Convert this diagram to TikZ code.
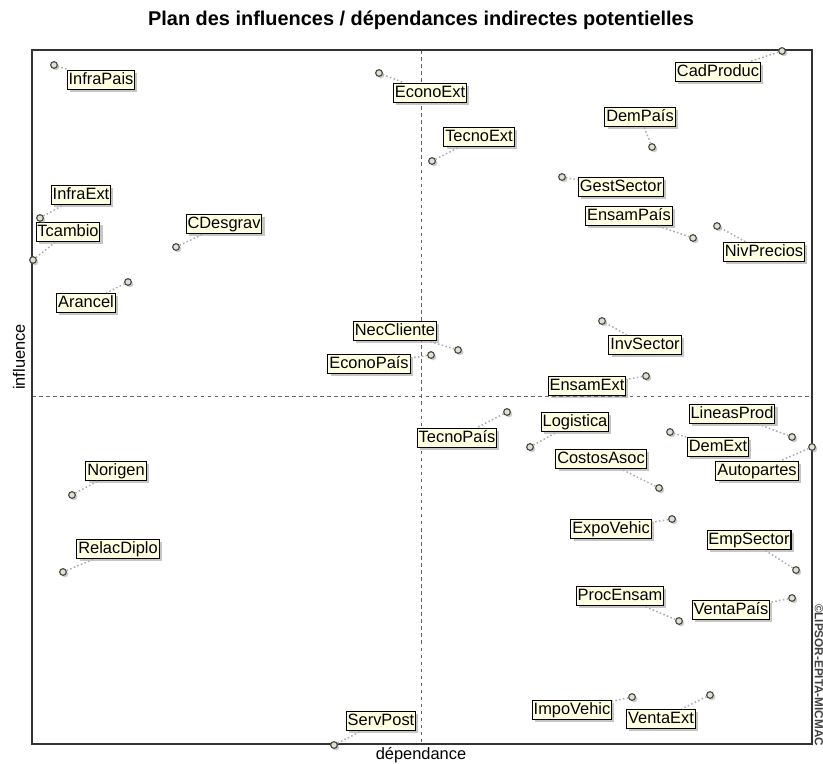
\documentclass[tikz,border=0pt]{standalone}
\usepackage{fontspec}
\setmainfont{Liberation Sans}
\usetikzlibrary{shadows}

\definecolor{lblfill}{RGB}{255,255,226}
\definecolor{ptfill}{RGB}{225,225,205}

\begin{document}
\begin{tikzpicture}[x=0.03cm,y=-0.03cm,
  lbl/.style={draw,line width=0.9pt,fill=lblfill,inner xsep=1.2pt,inner ysep=1.5pt,
    text height=10.5pt,text depth=3pt,font=\fontsize{14}{16}\selectfont,
    drop shadow={shadow xshift=0.08cm,shadow yshift=-0.08cm,opacity=0.45}},
  pt/.style={circle,draw=black!70,line width=1pt,fill=ptfill,inner sep=0mm,minimum size=0.2cm,
    drop shadow={shadow xshift=0.06cm,shadow yshift=-0.06cm,opacity=0.4}},
  leader/.style={gray!65,dotted,line width=1.3pt},
  axis/.style={gray!80!black,dashed,line width=0.6pt}]
\useasboundingbox (0,0) rectangle (823,763);

% titre et axes
\node[font=\bfseries\fontsize{17}{20}\selectfont] (title) at (421,20) {Plan des influences / dépendances indirectes potentielles};
\draw[axis] (421.5,50) -- (421.5,744);
\draw[axis] (32,396.5) -- (812,396.5);
\draw[line width=1.2pt,black!80] (32,50) rectangle (812,744);
\node[font=\fontsize{14}{16}\selectfont] (xlab) at (421,755) {dépendance};
\node[font=\fontsize{14}{16}\selectfont,rotate=90] (ylab) at (19,357) {influence};
\node[font=\bfseries\fontsize{10}{11}\selectfont,rotate=-90,text=black!75] (copy) at (819,675) {©LIPSOR-EPITA-MICMAC};

% libelles
\foreach \x/\y/\n/\t in {101/80/infrapais/InfraPais, 430/93/econoext/EconoExt, 718/72/cadproduct/CadProduc,
    640/117/dempais/DemPaís, 479/137/tecnoext/TecnoExt, 621/187/gestsector/GestSector,
    81/195/infraext/InfraExt, 224/224/cdesgrav/CDesgrav, 68/232/tcambio/Tcambio,
    629/216/ensampais/EnsamPaís, 764/252/nivprecios/NivPrecios, 86/303/arancel/Arancel,
    395/331/neccliente/NecCliente, 369/364/econopais/EconoPaís, 645/345/invsector/InvSector,
    587/386/ensamext/EnsamExt, 457/438/tecnopais/TecnoPaís, 575/422/logistica/Logistica,
    732/414/lineasprod/LineasProd, 718/447/demext/DemExt, 757/471/autopartes/Autopartes,
    601/459/costosasoc/CostosAsoc, 116/471/norigen/Norigen, 611/529/expovehic/ExpoVehic,
    749/540/empsector/EmpSector, 118/549/relacdiplo/RelacDiplo, 620/596/procensam/ProcEnsam,
    731/610/ventapais/VentaPaís, 572/710/impovehic/ImpoVehic, 661/719/ventaext/VentaExt,
    381/721/servpost/ServPost}
  \node[lbl] (\n) at (\x,\y) {\t};

% points
\foreach \x/\y/\n in {54/65/infrapais, 379/73/econoext, 782/51/cadproduct, 652/147/dempais,
    432/161/tecnoext, 562/177/gestsector, 40/218/infraext, 176/247/cdesgrav, 33/260/tcambio,
    693/238/ensampais, 717/226/nivprecios, 128/282/arancel, 458/350/neccliente, 431/355/econopais,
    602/321/invsector, 646/376/ensamext, 507/412/tecnopais, 530/447/logistica, 792/437/lineasprod,
    670/432/demext, 812/447/autopartes, 659/488/costosasoc, 72/495/norigen, 672/519/expovehic,
    796/570/empsector, 63/572/relacdiplo, 679/621/procensam, 792/598/ventapais,
    632/697/impovehic, 710/695/ventaext, 334/745/servpost}
  \node[pt] (p\n) at (\x,\y) {};

\foreach \n in {infrapais, econoext, cadproduct, dempais, tecnoext, gestsector, infraext, cdesgrav,
    tcambio, ensampais, nivprecios, arancel, neccliente, econopais, invsector, ensamext, tecnopais,
    logistica, lineasprod, demext, autopartes, costosasoc, norigen, expovehic, empsector, relacdiplo,
    procensam, ventapais, impovehic, ventaext, servpost}
  \draw[leader] (p\n) -- (\n);

\end{tikzpicture}
\end{document}
